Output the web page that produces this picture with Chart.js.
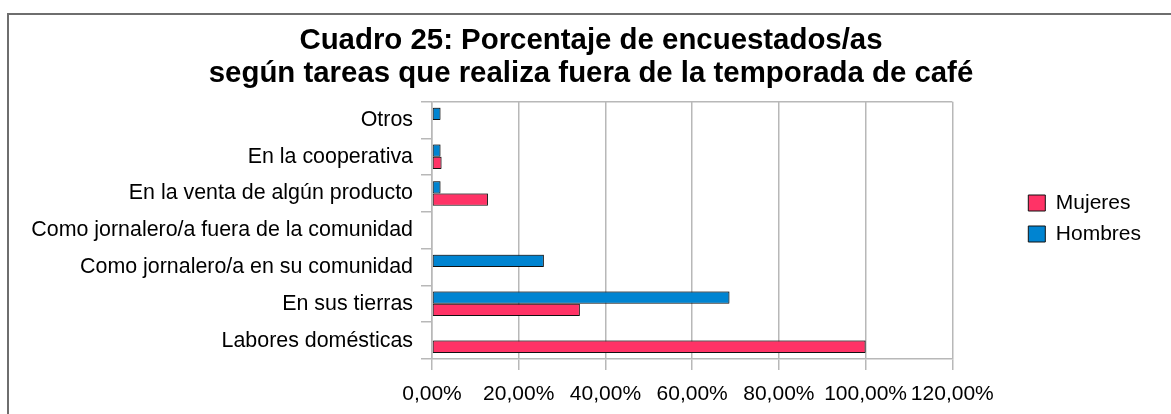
<!DOCTYPE html>
<html>
<head>
<meta charset="utf-8">
<script src="https://cdn.jsdelivr.net/npm/chart.js@4/dist/chart.umd.min.js"></script>
<style>
  html, body { margin: 0; padding: 0; background: #fff; overflow: hidden; }
  #wrap { position: absolute; left: 0; top: 0; width: 1171px; height: 414px; }
</style>
</head>
<body>
<div id="wrap"><canvas id="c" width="1171" height="414"></canvas></div>
<script>
const titleLines = ['Cuadro 25: Porcentaje de encuestados/as', 'según tareas que realiza fuera de la temporada de café'];
const categories = ['Otros', 'En la cooperativa', 'En la venta de algún producto', 'Como jornalero/a fuera de la comunidad', 'Como jornalero/a en su comunidad', 'En sus tierras', 'Labores domésticas'];
const seriesNames = ['Hombres', 'Mujeres'];
const hombres = [1.96, 1.96, 1.96, 0, 25.8, 68.6, 0];
const mujeres = [0, 2.2, 12.9, 0, 0, 34.1, 100];
const xTickLabels = ['0,00%', '20,00%', '40,00%', '60,00%', '80,00%', '100,00%', '120,00%'];

const FONT = 'Liberation Sans, Arial, sans-serif';
Chart.defaults.color = '#000';
Chart.defaults.font.family = FONT;

const borderPlugin = {
  id: 'outerBorder',
  beforeDraw(chart) {
    const ctx = chart.ctx;
    ctx.save();
    ctx.fillStyle = '#fff';
    ctx.fillRect(0, 0, chart.width, chart.height);
    ctx.strokeStyle = '#6e6e6e';
    ctx.lineWidth = 2;
    ctx.beginPath();
    ctx.moveTo(8, chart.height + 5);
    ctx.lineTo(8, 14);
    ctx.lineTo(chart.width + 5, 14);
    ctx.stroke();
    ctx.restore();
  }
};
const shadowPlugin = {
  id: 'barShadow',
  beforeDatasetsDraw(chart) {
    const ctx = chart.ctx;
    ctx.save();
    ctx.shadowColor = 'rgba(0,0,0,0.28)';
    ctx.shadowOffsetX = 1;
    ctx.shadowOffsetY = -1;
    ctx.shadowBlur = 0;
  },
  afterDatasetsDraw(chart) {
    chart.ctx.restore();
  }
};

new Chart(document.getElementById('c'), {
  type: 'bar',
  data: {
    labels: categories,
    datasets: [
      { label: seriesNames[0], data: hombres, backgroundColor: '#0084d1', borderColor: '#111', borderWidth: 1, borderSkipped: false },
      { label: seriesNames[1], data: mujeres, backgroundColor: '#ff3366', borderColor: '#111', borderWidth: 1, borderSkipped: false }
    ]
  },
  options: {
    indexAxis: 'y',
    responsive: false,
    animation: false,
    devicePixelRatio: 1,
    layout: { padding: { left: 31, right: 20, top: 0, bottom: 0 } },
    datasets: { bar: { categoryPercentage: 0.667, barPercentage: 1 } },
    scales: {
      x: {
        min: 0, max: 120,
        ticks: { stepSize: 20, font: { size: 21 }, padding: 12, maxRotation: 0, autoSkip: false,
          callback: (v, i) => xTickLabels[i] },
        grid: { color: '#b8b8b8', lineWidth: 1.5, tickLength: 11, tickColor: '#b8b8b8' },
        border: { color: '#b8b8b8', width: 1.5 },
        afterFit: s => { s.height = 55; }
      },
      y: {
        ticks: { font: { size: 21.4 }, padding: 8, autoSkip: false },
        grid: { offset: true, tickLength: 11, lineWidth: 1.5,
          color: c => (c.index === 0 ? '#b8b8b8' : 'rgba(0,0,0,0)'),
          tickColor: '#b8b8b8' },
        border: { color: '#b8b8b8', width: 1.5 },
        afterFit: s => { s.width = 401; }
      },
      gap: {
        type: 'linear', position: 'right', display: true,
        grid: { display: false }, ticks: { display: false }, border: { display: false },
        afterFit: s => { s.width = 66; }
      }
    },
    plugins: {
      title: {
        display: true, text: titleLines,
        font: { size: 29.4, weight: 'bold', lineHeight: 1.1 }, color: '#000',
        padding: { top: 25, bottom: 12 }
      },
      legend: {
        position: 'right',
        reverse: true,
        title: { display: true, text: ' ', font: { size: 10, lineHeight: 1.2 }, padding: 5.5 },
        labels: { boxWidth: 17, boxHeight: 16, padding: 10, font: { size: 21 }, color: '#000' }
      },
      tooltip: { enabled: false }
    }
  },
  plugins: [borderPlugin, shadowPlugin]
});
</script>
</body>
</html>
